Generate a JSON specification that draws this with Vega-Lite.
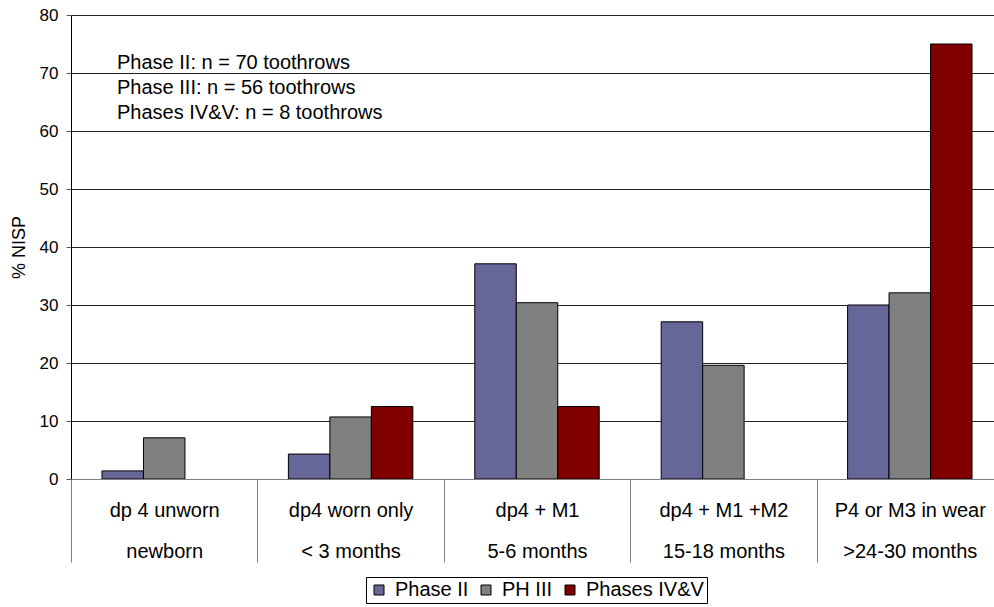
{
  "$schema": "https://vega.github.io/schema/vega-lite/v6.json",
  "width": 923,
  "height": 464,
  "autosize": {"type": "none"},
  "padding": {"left": 71, "top": 15, "right": 0, "bottom": 128},
  "background": "white",
  "config": {"font": "Liberation Sans", "view": {"stroke": null}},
  "layer": [
    {
      "data": {"values": [
        {"cat": "dp 4 unworn|newborn", "phase": "Phase II", "pct": 1.4},
        {"cat": "dp 4 unworn|newborn", "phase": "PH III", "pct": 7.1},
        {"cat": "dp4 worn only|< 3 months", "phase": "Phase II", "pct": 4.3},
        {"cat": "dp4 worn only|< 3 months", "phase": "PH III", "pct": 10.7},
        {"cat": "dp4 worn only|< 3 months", "phase": "Phases IV&V", "pct": 12.5},
        {"cat": "dp4 + M1|5-6 months", "phase": "Phase II", "pct": 37.1},
        {"cat": "dp4 + M1|5-6 months", "phase": "PH III", "pct": 30.4},
        {"cat": "dp4 + M1|5-6 months", "phase": "Phases IV&V", "pct": 12.5},
        {"cat": "dp4 + M1 +M2|15-18 months", "phase": "Phase II", "pct": 27.1},
        {"cat": "dp4 + M1 +M2|15-18 months", "phase": "PH III", "pct": 19.6},
        {"cat": "P4 or M3 in wear|>24-30 months", "phase": "Phase II", "pct": 30.0},
        {"cat": "P4 or M3 in wear|>24-30 months", "phase": "PH III", "pct": 32.1},
        {"cat": "P4 or M3 in wear|>24-30 months", "phase": "Phases IV&V", "pct": 75.0}
      ]},
      "mark": {"type": "bar", "stroke": "black", "strokeWidth": 1},
      "encoding": {
        "x": {
          "field": "cat", "type": "nominal",
          "scale": {"domain": ["dp 4 unworn|newborn", "dp4 worn only|< 3 months", "dp4 + M1|5-6 months", "dp4 + M1 +M2|15-18 months", "P4 or M3 in wear|>24-30 months"], "range": [0, 932], "paddingInner": 0, "paddingOuter": 0},
          "axis": {
            "title": null, "grid": false, "tickBand": "extent", "tickSize": 83, "tickColor": "#808080",
            "domainColor": "#808080", "labelExpr": "split(datum.label, '|')", "labelFontSize": 20,
            "labelColor": "black", "labelLineHeight": 41.5, "labelBaseline": "top", "labelPadding": -62,
            "labelAngle": 0, "zindex": 1
          }
        },
        "xOffset": {
          "field": "phase", "type": "nominal",
          "scale": {"domain": ["Phase II", "PH III", "Phases IV&V"], "paddingInner": 0, "paddingOuter": 0.747}
        },
        "y": {
          "field": "pct", "type": "quantitative",
          "scale": {"domain": [0, 80], "nice": false},
          "axis": {
            "values": [0, 10, 20, 30, 40, 50, 60, 70, 80], "grid": true, "gridColor": "#222222",
            "domainColor": "black", "tickColor": "#555555", "tickSize": 5, "labelFontSize": 17,
            "labelColor": "black", "labelPadding": 8, "title": "% NISP", "titleFontSize": 18,
            "titleFontWeight": "normal", "titleColor": "black", "titleAngle": -90, "titleX": -52,
            "titleY": 232, "titleAlign": "center", "titleBaseline": "middle"
          }
        },
        "color": {
          "field": "phase", "type": "nominal",
          "scale": {"domain": ["Phase II", "PH III", "Phases IV&V"], "range": ["#666699", "#808080", "#800000"]},
          "legend": {
            "title": null, "orient": "none", "legendX": 295, "legendY": 562, "direction": "horizontal",
            "strokeColor": "black", "fillColor": "white", "padding": 3, "labelFontSize": 20,
            "labelColor": "black", "symbolType": "square", "symbolSize": 100, "symbolStrokeColor": "black",
            "symbolStrokeWidth": 1, "symbolOpacity": 1, "columnPadding": 7, "labelOffset": 6
          }
        }
      }
    },
    {
      "data": {"values": [
        {"cat": "dp 4 unworn|newborn", "line": "Phase II: n = 70 toothrows", "ty": 70.7},
        {"cat": "dp 4 unworn|newborn", "line": "Phase III:  n = 56 toothrows", "ty": 66.4},
        {"cat": "dp 4 unworn|newborn", "line": "Phases IV&V: n = 8 toothrows", "ty": 62.1}
      ]},
      "mark": {"type": "text", "align": "left", "baseline": "alphabetic", "fontSize": 20, "dx": 46, "color": "black"},
      "encoding": {
        "x": {"field": "cat", "type": "nominal", "bandPosition": 0},
        "y": {"field": "ty", "type": "quantitative"},
        "text": {"field": "line"}
      }
    }
  ]
}
